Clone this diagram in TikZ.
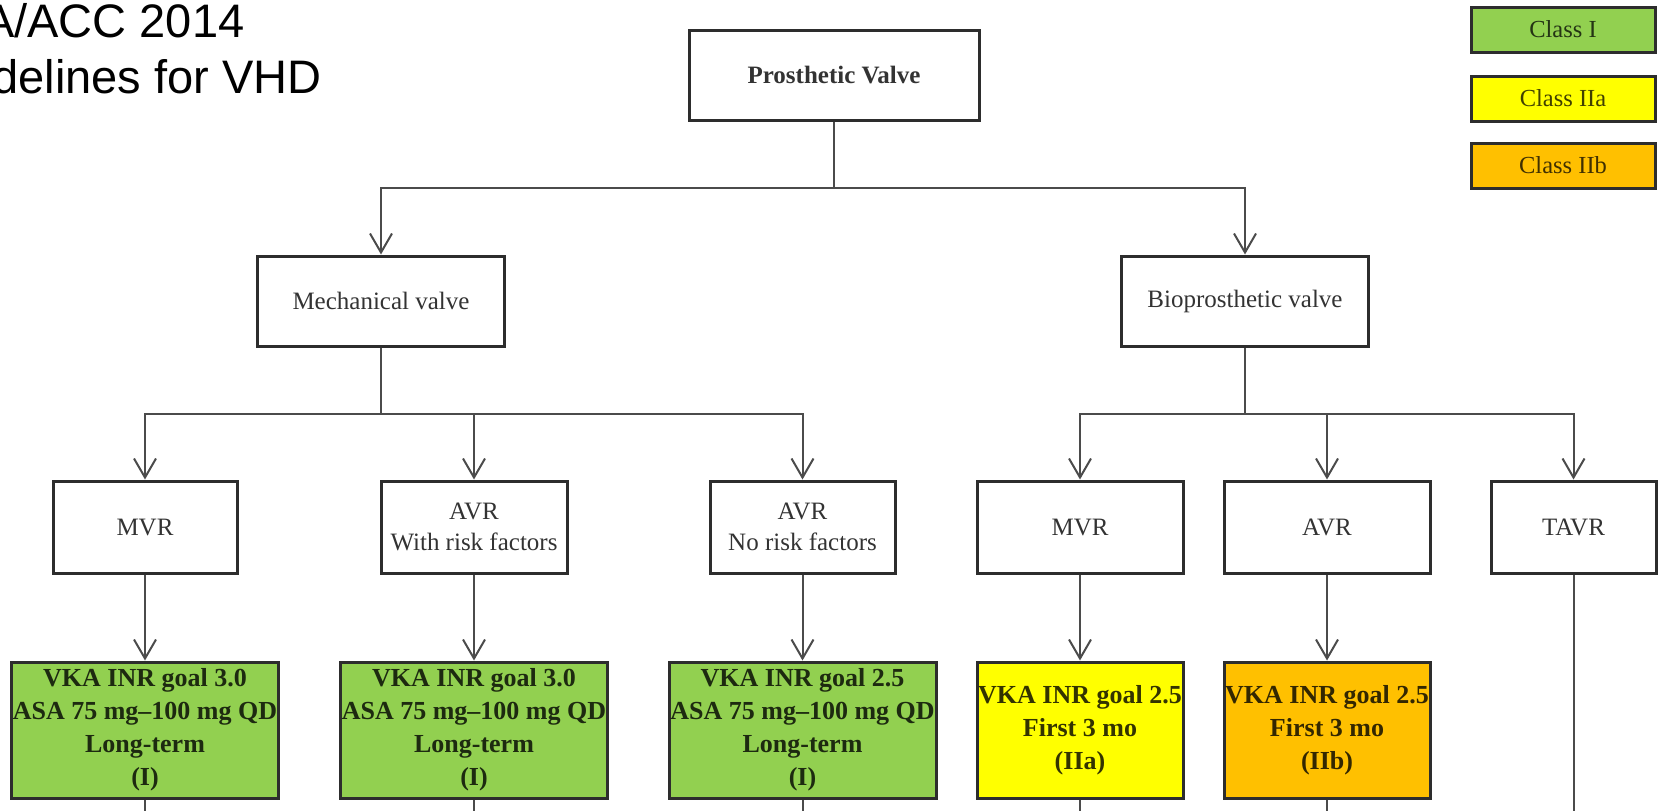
\documentclass[tikz,border=0pt]{standalone}
\usepackage{fontspec}
\setmainfont{Liberation Serif}
\newfontfamily\headfont{Liberation Sans}
\usetikzlibrary{arrows.meta}
\tikzset{>={Straight Barb[length=19pt,width=22pt]}}
\definecolor{classOne}{RGB}{146,208,80}
\definecolor{classTwoA}{RGB}{255,255,0}
\definecolor{classTwoB}{RGB}{255,192,0}
\definecolor{lineColour}{RGB}{75,75,75}
\definecolor{boxColour}{RGB}{45,45,45}
\tikzset{
	valvebox/.style={draw=boxColour, line width=3pt, fill=white, inner sep=0pt, minimum height=90pt, align=center, text=black!80, font=\fontsize{25}{31}\selectfont},
	drugbox/.style={draw=boxColour, line width=3pt, fill=#1, text=#1!20!black, inner sep=0pt, minimum height=136pt, align=center, font=\bfseries\fontsize{26}{33}\selectfont},
	keybox/.style={draw=boxColour, line width=3pt, fill=#1, text=#1!25!black, inner sep=0pt, minimum width=184pt, minimum height=45pt, font=\fontsize{24.5}{29}\selectfont},
	link/.style={draw=lineColour, line width=2pt}
}

\begin{document}
\begin{tikzpicture}[x=1pt, y=-1pt]
	\useasboundingbox[fill=white] (0,0) rectangle (1661,811);

	% title, cut off at the left edge
	\node[anchor=base east, font=\headfont\fontsize{47}{56}\selectfont] (titleTop) at (248,37) {A/ACC 2014};
	\node[anchor=base east, font=\headfont\fontsize{47}{56}\selectfont] (titleBottom) at (325,93) {delines for VHD};

	% legend
	\node[keybox=classOne] (keyOne) at (1563,29.5) {Class I};
	\node[keybox=classTwoA] (keyTwoA) at (1563,98.5) {Class IIa};
	\node[keybox=classTwoB] (keyTwoB) at (1563,165.5) {Class IIb};

	% valve type
	\node[valvebox, minimum width=290pt, font=\bfseries\fontsize{25}{31}\selectfont] (pv) at (834,75) {Prosthetic Valve};
	\node[valvebox, minimum width=247pt] (mech) at (381,301) {Mechanical valve};
	\node[valvebox, minimum width=247pt] (bio) at (1245,301) {Bioprosthetic valve};

	% valve position
	\node[valvebox, minimum width=184pt, minimum height=92pt] (mechMvr) at (145,527) {MVR};
	\node[valvebox, minimum width=186pt, minimum height=92pt] (mechAvrRisk) at (474,527) {AVR\\With risk factors};
	\node[valvebox, minimum width=185pt, minimum height=92pt] (mechAvrNoRisk) at (802.5,527) {AVR\\No risk factors};
	\node[valvebox, minimum width=206pt, minimum height=92pt] (bioMvr) at (1080,527) {MVR};
	\node[valvebox, minimum width=206pt, minimum height=92pt] (bioAvr) at (1327,527) {AVR};
	\node[valvebox, minimum width=165pt, minimum height=92pt] (bioTavr) at (1573.5,527) {TAVR};

	% therapy
	\node[drugbox=classOne, minimum width=267pt] (mechMvrRx) at (145,730) {VKA INR goal 3.0\\ASA 75 mg--100 mg QD\\Long-term\\(I)};
	\node[drugbox=classOne, minimum width=267pt] (mechAvrRiskRx) at (474,730) {VKA INR goal 3.0\\ASA 75 mg--100 mg QD\\Long-term\\(I)};
	\node[drugbox=classOne, minimum width=267pt] (mechAvrNoRiskRx) at (802.5,730) {VKA INR goal 2.5\\ASA 75 mg--100 mg QD\\Long-term\\(I)};
	\node[drugbox=classTwoA, minimum width=206pt] (bioMvrRx) at (1080,730) {VKA INR goal 2.5\\First 3 mo\\(IIa)};
	\node[drugbox=classTwoB, minimum width=206pt] (bioAvrRx) at (1327,730) {VKA INR goal 2.5\\First 3 mo\\(IIb)};

	% branch points
	\coordinate (pvJoin) at (834,188);
	\coordinate (mechJoin) at (381,414);
	\coordinate (bioJoin) at (1245,414);
	\coordinate (pageEdge) at (0,811);

	% connectors
	\draw[link] (pv) -- (pvJoin);
	\draw[link,->] (pvJoin) -| (mech);
	\draw[link,->] (pvJoin) -| (bio);

	\draw[link] (mech) -- (mechJoin);
	\draw[link,->] (mechJoin) -| (mechMvr);
	\draw[link,->] (mechJoin) -| (mechAvrRisk);
	\draw[link,->] (mechJoin) -| (mechAvrNoRisk);

	\draw[link] (bio) -- (bioJoin);
	\draw[link,->] (bioJoin) -| (bioMvr);
	\draw[link,->] (bioJoin) -| (bioAvr);
	\draw[link,->] (bioJoin) -| (bioTavr);

	\draw[link,->] (mechMvr) -- (mechMvrRx);
	\draw[link,->] (mechAvrRisk) -- (mechAvrRiskRx);
	\draw[link,->] (mechAvrNoRisk) -- (mechAvrNoRiskRx);
	\draw[link,->] (bioMvr) -- (bioMvrRx);
	\draw[link,->] (bioAvr) -- (bioAvrRx);

	% lines running off the bottom
	\foreach \n in {mechMvrRx, mechAvrRiskRx, mechAvrNoRiskRx, bioMvrRx, bioAvrRx, bioTavr}
		\draw[link] (\n) -- (\n |- pageEdge);
\end{tikzpicture}
\end{document}
